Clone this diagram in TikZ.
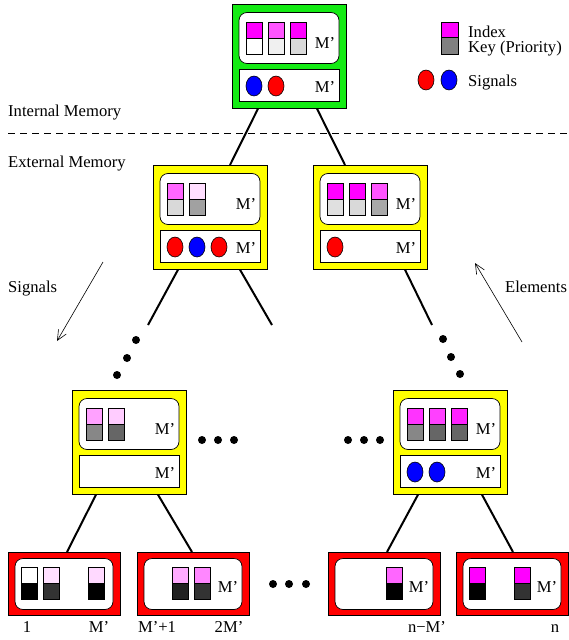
\documentclass[tikz,border=0pt]{standalone}
\usepackage{fontspec}
\setmainfont{Liberation Serif}
\usetikzlibrary{arrows.meta}

\definecolor{memgreen}{RGB}{20,235,20}
\definecolor{memyellow}{RGB}{255,255,0}
\definecolor{memred}{RGB}{255,0,0}
\definecolor{idx}{RGB}{255,0,255}
\definecolor{sigred}{RGB}{255,0,0}
\definecolor{sigblue}{RGB}{0,0,255}

% one element slot: index on top, key below
\newcommand{\keycell}[4]{%
    \filldraw[fill=#3, line width=0.6pt] (#1,#2) rectangle ++(16,16);
    \filldraw[fill=#4, line width=0.6pt] (#1,#2+16) rectangle ++(16,16);}
% one signal in a buffer
\newcommand{\sigdot}[3]{%
    \filldraw[fill=#3, line width=0.6pt] (#1,#2) ellipse [x radius=8, y radius=10];}

\begin{document}
\begin{tikzpicture}[x=1pt, y=-1pt, font=\fontsize{16.6}{19}\selectfont,
    block/.style={draw, line width=0.7pt, anchor=north west, inner sep=0pt,
        minimum width=114pt, minimum height=104pt},
    leafblock/.style={draw, line width=0.7pt, fill=memred, anchor=north west, inner sep=0pt,
        minimum width=112pt, minimum height=63pt},
    heap/.style={draw, line width=0.7pt, fill=white, rounded corners=8pt, inner sep=0pt,
        minimum width=100pt, minimum height=51pt},
    leafheap/.style={heap, minimum width=98pt},
    buffer/.style={draw, line width=0.7pt, fill=white, inner sep=0pt,
        minimum width=100pt, minimum height=32pt},
    mtext/.style={anchor=base, inner sep=0pt},
    ltext/.style={anchor=base west, inner sep=0pt},
    branch/.style={line width=2pt},
    elldot/.style={circle, fill=black, inner sep=0pt, minimum size=8pt},
    flow/.style={-{Straight Barb[length=10pt,width=9pt]}, line width=0.6pt}]
    \useasboundingbox (0,0) rectangle (568,640);

        %memory levels
    \node[ltext] (intmem) at (8,116) {Internal Memory};
    \node[ltext] (extmem) at (8,167) {External Memory};
    \draw[dash pattern=on 7pt off 5pt, line width=0.8pt] (8,133) -- (568,133);

        %legend
    \filldraw[fill=idx, line width=0.6pt] (441,22) rectangle (458,37);
    \filldraw[fill=black!50, line width=0.6pt] (441,37) rectangle (458,54);
    \node[ltext] (legidx) at (468,37) {Index};
    \node[ltext] (legkey) at (468,52) {Key (Priority)};
    \sigdot{426}{80}{sigred}
    \sigdot{449}{80}{sigblue}
    \node[ltext] (legsig) at (468,86) {Signals};

        %direction of flow
    \coordinate (sigstart) at (103,262);
    \coordinate (sigend) at (57,341);
    \coordinate (elemstart) at (522,342);
    \coordinate (elemend) at (475,263);
    \draw[flow] (sigstart) -- (sigend);
    \draw[flow] (elemstart) -- (elemend);
    \node[ltext] (sigtext) at (8,292) {Signals};
    \node[ltext] (elemtext) at (505,292) {Elements};

        %boxes of the tree
    \node[block, fill=memgreen] (root) at (232,4) {};
    \node[block, fill=memyellow] (midL) at (153,165) {};
    \node[block, fill=memyellow] (midR) at (313,165) {};
    \node[block, fill=memyellow] (lowL) at (72,390) {};
    \node[block, fill=memyellow] (lowR) at (393,390) {};
    \node[leafblock] (leafA) at (8,552) {};
    \node[leafblock] (leafB) at (137,552) {};
    \node[leafblock] (leafC) at (328,552) {};
    \node[leafblock] (leafD) at (456,552) {};

        %branches
    \coordinate (cutLL) at (148,325);
    \coordinate (cutLR) at (272,325);
    \coordinate (cutRR) at (432,325);
    \draw[branch] ([xshift=26pt]root.south west) -- ([xshift=77pt]midL.north west);
    \draw[branch] ([xshift=85pt]root.south west) -- ([xshift=32pt]midR.north west);
    \draw[branch] ([xshift=25pt]midL.south west) -- (cutLL);
    \draw[branch] ([xshift=87pt]midL.south west) -- (cutLR);
    \draw[branch] ([xshift=92pt]midR.south west) -- (cutRR);
    \draw[branch] ([xshift=24pt]lowL.south west) -- ([xshift=59pt]leafA.north west);
    \draw[branch] ([xshift=86pt]lowL.south west) -- ([xshift=55pt]leafB.north west);
    \draw[branch] ([xshift=25pt]lowR.south west) -- ([xshift=59pt]leafC.north west);
    \draw[branch] ([xshift=89pt]lowR.south west) -- ([xshift=57pt]leafD.north west);

        %dots
    \foreach \p [count=\i] in {(136,340),(127,358),(117,375),(443,339),(451,357),(460,374),
        (202,440),(218,440),(234,440),(348,440),(364,440),(380,440),
        (273,584),(289,584),(306,584)}
        \node[elldot] (dot\i) at \p {};

        %root
    \node[heap] (rootheap) at (289,38) {};
    \node[buffer] (rootbuf) at (289,85) {};
    \keycell{246}{22}{idx}{white}
    \keycell{268}{22}{idx!67}{black!6}
    \keycell{290}{22}{idx}{black!15}
    \sigdot{254}{86}{sigblue}
    \sigdot{276}{86}{sigred}
    \node[mtext] (rootm) at (325,48) {M'};
    \node[mtext] (rootbm) at (325,92) {M'};

        %middle left
    \node[heap] (midLheap) at (210,199) {};
    \node[buffer] (midLbuf) at (210,246) {};
    \keycell{167}{183}{idx!60}{black!15}
    \keycell{189}{183}{idx!13}{black!37}
    \sigdot{175}{247}{sigred}
    \sigdot{197}{247}{sigblue}
    \sigdot{219}{247}{sigred}
    \node[mtext] (midLm) at (246,209) {M'};
    \node[mtext] (midLbm) at (246,253) {M'};

        %middle right
    \node[heap] (midRheap) at (370,199) {};
    \node[buffer] (midRbuf) at (370,246) {};
    \keycell{327}{183}{idx}{black!12}
    \keycell{349}{183}{idx}{black!15}
    \keycell{371}{183}{idx!67}{black!34}
    \sigdot{335}{247}{sigred}
    \node[mtext] (midRm) at (406,209) {M'};
    \node[mtext] (midRbm) at (406,253) {M'};

        %lower left
    \node[heap] (lowLheap) at (129,424) {};
    \node[buffer] (lowLbuf) at (129,471) {};
    \keycell{86}{408}{idx!37}{black!47}
    \keycell{108}{408}{idx!20}{black!60}
    \node[mtext] (lowLm) at (165,434) {M'};
    \node[mtext] (lowLbm) at (165,478) {M'};

        %lower right
    \node[heap] (lowRheap) at (450,424) {};
    \node[buffer] (lowRbuf) at (450,471) {};
    \keycell{407}{408}{idx!80}{black!47}
    \keycell{429}{408}{idx!75}{black!60}
    \keycell{451}{408}{idx!87}{black!60}
    \sigdot{415}{472}{sigblue}
    \sigdot{437}{472}{sigblue}
    \node[mtext] (lowRm) at (486,434) {M'};
    \node[mtext] (lowRbm) at (486,478) {M'};

        %leaves
    \node[leafheap] (leafAheap) at (64,584) {};
    \node[leafheap] (leafBheap) at (193,584) {};
    \node[leafheap] (leafCheap) at (384,584) {};
    \node[leafheap] (leafDheap) at (512,584) {};
    \keycell{21}{567}{white}{black}
    \keycell{43}{567}{idx!12}{black!80}
    \keycell{88}{567}{idx!15}{black}
    \keycell{172}{567}{idx!33}{black!87}
    \keycell{194}{567}{idx!47}{black!80}
    \keycell{386}{567}{idx!60}{black}
    \keycell{469}{567}{idx}{black}
    \keycell{514}{567}{idx}{black!80}
    \node[mtext] (leafBm) at (228,592) {M'};
    \node[mtext] (leafCm) at (419,592) {M'};
    \node[mtext] (leafDm) at (547,592) {M'};

        %positions in the order
    \node[mtext] (posA) at (27,632) {1};
    \node[mtext] (posB) at (99,632) {M'};
    \node[mtext] (posC) at (157,632) {M'+1};
    \node[mtext] (posD) at (229,632) {2M'};
    \node[mtext] (posE) at (427,632) {n−M'};
    \node[mtext] (posF) at (555,632) {n};
\end{tikzpicture}
\end{document}
